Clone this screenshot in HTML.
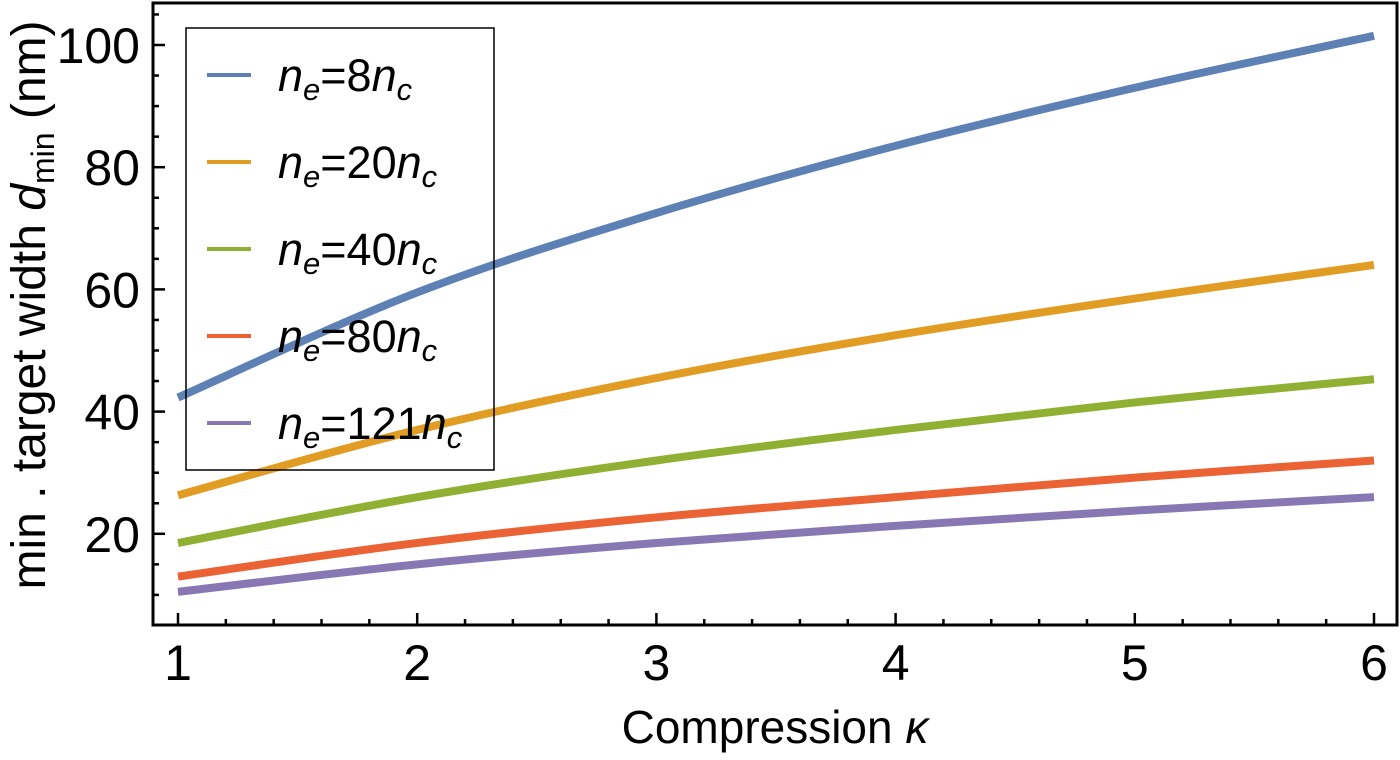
<!DOCTYPE html>
<html><head><meta charset="utf-8"><style>
body{margin:0;background:#fff;width:1400px;height:755px;overflow:hidden}
text{font-family:"Liberation Sans",sans-serif;fill:#000}
</style></head><body>
<svg id="chart" width="1400" height="755" xmlns="http://www.w3.org/2000/svg">
<g id="ticks"></g>
<g id="curves"></g>
<g>
<rect x="186" y="28" width="308" height="442" fill="none" stroke="#000" stroke-width="1.5"/>
<g id="legend-items"></g>
</g>
<rect x="153" y="3" width="1244" height="622" fill="none" stroke="#000" stroke-width="3"/>
<text x="775" y="743" font-size="46" text-anchor="middle">Compression <tspan font-style="italic">κ</tspan></text>
<text transform="translate(45,305) rotate(-90)" font-size="48" text-anchor="middle">min . target width <tspan font-style="italic">d</tspan><tspan font-size="32" dy="9">min</tspan><tspan dy="-9"> (nm)</tspan></text>
</svg>
<script>
const kappa=[1,2,3,4,5,6];
const s8=[42.3,59.5,72.5,83.5,93,101.5];
const s20=[26.3,37,45.5,52.5,58.5,64];
const s40=[18.5,26,32,37,41.5,45.3];
const s80=[13,18.5,22.7,26,29.2,32];
const s121=[10.5,15,18.5,21.3,23.8,26];
const xTicks=[1,2,3,4,5,6];
const yTicks=[20,40,60,80,100];
const labels=["8","20","40","80","121"];
const colors=["#5e81b5","#e19c24","#8fb032","#eb6235","#8778b3"];
const series=[s8,s20,s40,s80,s121];
const X=v=>178+(v-1)*239.2;
const Y=v=>656-v*6.11;
const NS="http://www.w3.org/2000/svg";
function mk(tag,attrs,parent){const e=document.createElementNS(NS,tag);for(const k in attrs)e.setAttribute(k,attrs[k]);parent.appendChild(e);return e;}
const tg=document.getElementById('ticks');
for(let v=1;v<=6.001;v+=0.2){const maj=Math.abs(v-Math.round(v))<1e-6;
 const t=mk('line',{x1:X(v),x2:X(v),y1:625,y2:625-(maj?12:6),stroke:'#000','stroke-width':2.5},tg);
 }
for(let v=10;v<=105;v+=5){const maj=v%20===0;
 const t=mk('line',{x1:153,x2:153+(maj?12:6),y1:Y(v),y2:Y(v),stroke:'#000','stroke-width':2.5},tg);
 }
xTicks.forEach(v=>{const t=mk('text',{x:X(v),y:680,'font-size':50,'text-anchor':'middle'},tg);t.textContent=v;
 });
yTicks.forEach(v=>{const t=mk('text',{x:140,y:Y(v)+18,'font-size':50,'text-anchor':'end'},tg);t.textContent=v;
 });
const cg=document.getElementById('curves');
series.forEach((s,i)=>{const p=kappa.map((k,j)=>[X(k),Y(s[j])]);
 let d=`M${p[0][0]},${p[0][1]}`;
 for(let j=0;j<p.length-1;j++){const p0=p[Math.max(j-1,0)],p1=p[j],p2=p[j+1],p3=p[Math.min(j+2,p.length-1)];
  d+=` C${p1[0]+(p2[0]-p0[0])/6},${p1[1]+(p2[1]-p0[1])/6} ${p2[0]-(p3[0]-p1[0])/6},${p2[1]-(p3[1]-p1[1])/6} ${p2[0]},${p2[1]}`;}
 const e=mk('path',{d:d,fill:'none',stroke:colors[i],'stroke-width':8},cg);
 });
const lg=document.getElementById('legend-items');
labels.forEach((l,i)=>{const y=75+i*87;
 const ln=mk('line',{x1:207,x2:251,y1:y,y2:y,stroke:colors[i],'stroke-width':4},lg);
 
 const t=mk('text',{x:278,y:y+16,'font-size':45},lg);
 t.innerHTML=`<tspan font-style="italic">n</tspan><tspan font-style="italic" font-size="31" dy="9">e</tspan><tspan dy="-9">=${l}</tspan><tspan font-style="italic">n</tspan><tspan font-style="italic" font-size="31" dy="9">c</tspan>`;
 });
</script>
</body></html>
